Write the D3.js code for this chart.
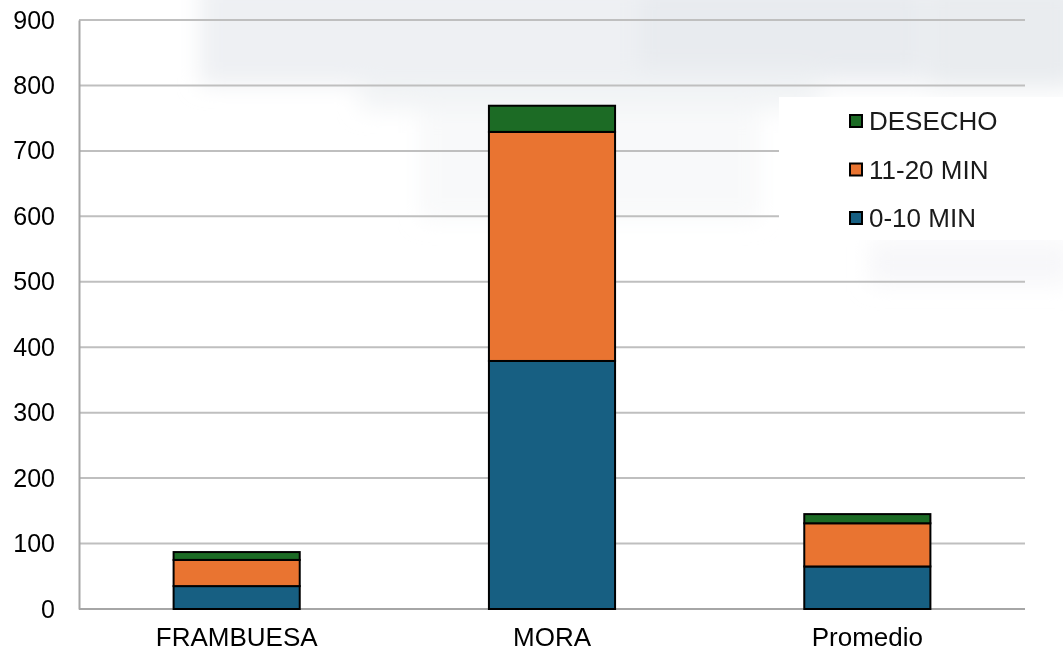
<!DOCTYPE html>
<html>
<head>
<meta charset="utf-8">
<script src="https://cdn.jsdelivr.net/npm/d3@7"></script>
<style>
  html, body { margin: 0; padding: 0; background: #fff; }
  svg { display: block; font-family: "Liberation Sans", Arial, sans-serif; }
</style>
</head>
<body>
<svg id="chart" width="1063" height="653"></svg>
<script>
// Categories and stacked series (from bottom to top)
const categories = ["FRAMBUESA", "MORA", "Promedio"];
const min0to10   = [35, 379, 65];
const min11to20  = [40, 350, 66];
const desecho    = [12, 40, 14];
const seriesNames = ["0-10 MIN", "11-20 MIN", "DESECHO"];
const seriesColors = ["#175f82", "#e97431", "#1c6b25"];
const yTicks = [0, 100, 200, 300, 400, 500, 600, 700, 800, 900];

const svg = d3.select("#chart");
const W = 1063, H = 653;
const margin = { left: 79, right: 38, top: 20, bottom: 44 };
const FONT = "Liberation Sans, Arial, sans-serif";

// Pale washed-out backdrop across the top of the chart
const defs = svg.append("defs");
defs.append("filter").attr("id", "haze")
  .attr("filterUnits", "userSpaceOnUse")
  .attr("x", 0).attr("y", -50).attr("width", W + 50).attr("height", 400)
  .append("feGaussianBlur").attr("stdDeviation", 11);
const haze = svg.append("g").attr("filter", "url(#haze)");
const patches = [
  [200, -20, 900, 105, "#ebedf1", 0.85],
  [360, 70, 460, 40, "#eff1f4", 0.8],
  [420, 100, 340, 120, "#f4f5f7", 0.6],
  [870, 240, 200, 45, "#f3f4f6", 0.7],
  [640, -10, 280, 80, "#e4e7ec", 0.55],
  [930, -10, 140, 100, "#e6e9ed", 0.55]
];
patches.forEach(p => haze.append("rect")
  .attr("x", p[0]).attr("y", p[1]).attr("width", p[2]).attr("height", p[3])
  .attr("fill", p[4]).attr("opacity", p[5]));

const x = d3.scaleBand()
  .domain(categories)
  .range([margin.left, W - margin.right])
  .paddingInner(0.6)
  .paddingOuter(0.3);

const y = d3.scaleLinear()
  .domain([0, 900])
  .range([H - margin.bottom, margin.top]);

// Gridlines
svg.append("g")
  .selectAll("line")
  .data(yTicks)
  .join("line")
  .attr("x1", margin.left).attr("x2", W - margin.right)
  .attr("y1", d => y(d)).attr("y2", d => y(d))
  .attr("stroke", "#bfbfbf").attr("stroke-width", 2);

// Legend panel (white box over the backdrop)
svg.append("rect").attr("x", 779).attr("y", 97).attr("width", 284).attr("height", 143).attr("fill", "#fff");

// Y axis
const yAxis = svg.append("g")
  .attr("transform", `translate(${margin.left},0)`)
  .call(d3.axisLeft(y).tickValues(yTicks).tickSize(0).tickPadding(24));
yAxis.select(".domain").attr("stroke", "#a6a6a6").attr("stroke-width", 2);
yAxis.selectAll("text").attr("font-size", 25).attr("fill", "#000").attr("font-family", FONT);

// X axis
const xAxis = svg.append("g")
  .attr("transform", `translate(0,${y(0)})`)
  .call(d3.axisBottom(x).tickSize(0).tickPadding(19));
xAxis.select(".domain").attr("stroke", "#a6a6a6").attr("stroke-width", 2)
  .attr("d", `M${margin.left},0H${W - margin.right}`);
xAxis.selectAll("text").attr("font-size", 26).attr("fill", "#000").attr("font-family", FONT);

// Stacked bars
const rows = categories.map((c, i) => ({
  cat: c, "0-10 MIN": min0to10[i], "11-20 MIN": min11to20[i], "DESECHO": desecho[i]
}));
const stacked = d3.stack().keys(seriesNames)(rows);

svg.append("g")
  .selectAll("g")
  .data(stacked)
  .join("g")
  .attr("fill", (d, i) => seriesColors[i])
  .selectAll("rect")
  .data(d => d)
  .join("rect")
  .attr("x", d => x(d.data.cat))
  .attr("width", x.bandwidth())
  .attr("y", d => y(d[1]))
  .attr("height", d => y(d[0]) - y(d[1]))
  .attr("stroke", "#000")
  .attr("stroke-width", 2);

// Legend (top-to-bottom: DESECHO, 11-20 MIN, 0-10 MIN)
const legendOrder = [2, 1, 0];
const lg = svg.append("g");
legendOrder.forEach((si, k) => {
  const cy = 121 + k * 48.5;
  lg.append("rect")
    .attr("x", 850).attr("y", cy - 6).attr("width", 12).attr("height", 12)
    .attr("fill", seriesColors[si]).attr("stroke", "#000").attr("stroke-width", 2);
  lg.append("text")
    .attr("x", 869).attr("y", cy + 9)
    .attr("font-size", 26).attr("fill", "#1a1a1a").attr("font-family", FONT)
    .text(seriesNames[si]);
});
</script>
</body>
</html>
